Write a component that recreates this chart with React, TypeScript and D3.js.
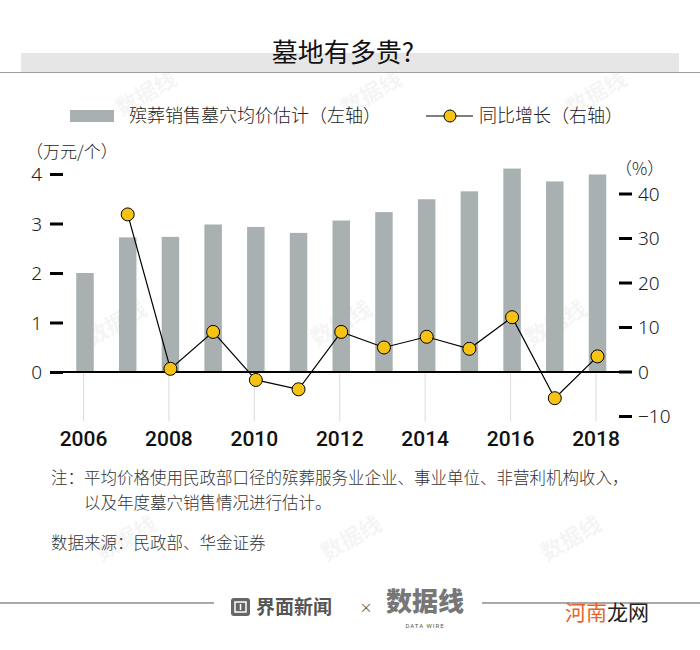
import React, { useRef, useEffect } from 'react';
import * as d3 from 'd3';

// chart data
const years = [2006, 2007, 2008, 2009, 2010, 2011, 2012, 2013, 2014, 2015, 2016, 2017, 2018];
const avgPrice = [2.0, 2.72, 2.73, 2.98, 2.93, 2.81, 3.06, 3.23, 3.49, 3.65, 4.11, 3.85, 3.99];
const yoyGrowth: (number | null)[] = [null, 35.3, 0.6, 8.9, -1.9, -4.0, 8.9, 5.4, 7.8, 5.1, 12.2, -6.0, 3.4];
const leftTicks = [0, 1, 2, 3, 4];
const rightTicks = [-10, 0, 10, 20, 30, 40];
const labelYears = [2006, 2008, 2010, 2012, 2014, 2016, 2018];

const CJK = '"Noto Sans CJK SC", "Noto Sans", sans-serif';
const BAR_COLOR = '#a9b0b2';
const DOT_COLOR = '#f6c315';

const App: React.FC = () => {
  const svgRef = useRef<SVGSVGElement>(null);
  const width = 700;
  const height = 650;

  useEffect(() => {
    if (!svgRef.current) return;
    const root = d3.select(svgRef.current);
    root.selectAll('*').remove();

    root.append('rect').attr('width', width).attr('height', height).attr('fill', '#fff');

    // faint watermarks
    const marks = [[120, 330], [345, 330], [560, 330], [150, 100], [375, 100], [600, 100], [355, 545], [575, 545], [130, 545]];
    root
      .selectAll('.wm')
      .data(marks)
      .enter()
      .append('text')
      .attr('class', 'wm')
      .attr('transform', (d) => `translate(${d[0]},${d[1]}) rotate(-30)`)
      .attr('text-anchor', 'middle')
      .style('font-family', CJK)
      .style('font-weight', 700)
      .style('font-size', '22px')
      .style('fill', '#000')
      .style('opacity', 0.035)
      .text('数据线');

    // title
    root.append('rect').attr('x', 21).attr('y', 53).attr('width', 658).attr('height', 19).attr('fill', '#e6e6e6');
    root.append('line').attr('x1', 0).attr('x2', width).attr('y1', 72.5).attr('y2', 72.5).attr('stroke', '#a0a0a0').attr('stroke-width', 1);
    root
      .append('text')
      .attr('x', 343)
      .attr('y', 62)
      .attr('text-anchor', 'middle')
      .style('font-family', CJK)
      .style('font-weight', 400)
      .style('font-size', '26px')
      .style('fill', '#111')
      .text('墓地有多贵?');

    // legend
    root.append('rect').attr('x', 70).attr('y', 110).attr('width', 44).attr('height', 12).attr('fill', BAR_COLOR);
    root
      .append('text')
      .attr('x', 129)
      .attr('y', 122)
      .style('font-family', CJK)
      .style('font-weight', 300)
      .style('font-size', '18px')
      .style('fill', '#222')
      .text('殡葬销售墓穴均价估计（左轴）');
    root.append('line').attr('x1', 426).attr('x2', 473).attr('y1', 116).attr('y2', 116).attr('stroke', '#000').attr('stroke-width', 1.2);
    root.append('circle').attr('cx', 450).attr('cy', 116).attr('r', 6).attr('fill', DOT_COLOR).attr('stroke', '#000').attr('stroke-width', 1);
    root
      .append('text')
      .attr('x', 479)
      .attr('y', 122)
      .style('font-family', CJK)
      .style('font-weight', 300)
      .style('font-size', '18px')
      .style('fill', '#222')
      .text('同比增长（右轴）');

    // scales
    const x = d3.scalePoint<number>().domain(years).range([85, 597.5]);
    const yLeft = d3.scaleLinear().domain([0, 4]).range([372, 174]);
    const yRight = d3.scaleLinear().domain([-10, 40]).range([416, 193.5]);
    const barWidth = 17.5;

    // axis unit labels
    root
      .append('text')
      .attr('x', 26)
      .attr('y', 158)
      .style('font-family', CJK)
      .style('font-weight', 300)
      .style('font-size', '17px')
      .style('fill', '#222')
      .text('（万元/个）');
    root
      .append('text')
      .attr('x', 615)
      .attr('y', 175)
      .style('font-family', CJK)
      .style('font-weight', 300)
      .style('font-size', '17px')
      .style('fill', '#222')
      .text('（%）');

    // vertical grid under baseline
    root
      .append('g')
      .selectAll('line')
      .data(labelYears)
      .enter()
      .append('line')
      .attr('x1', (d) => (x(d) as number) - 1.5)
      .attr('x2', (d) => (x(d) as number) - 1.5)
      .attr('y1', yLeft(0))
      .attr('y2', 421)
      .attr('stroke', '#dcdcdc')
      .attr('stroke-width', 1);

    // bars
    root
      .append('g')
      .selectAll('rect')
      .data(avgPrice)
      .enter()
      .append('rect')
      .attr('x', (_, i) => (x(years[i]) as number) - barWidth / 2)
      .attr('width', barWidth)
      .attr('y', (d) => yLeft(d))
      .attr('height', (d) => yLeft(0) - yLeft(d))
      .attr('fill', BAR_COLOR);

    // left axis
    const leftAxis = root
      .append('g')
      .attr('transform', 'translate(63,0)')
      .call(d3.axisLeft(yLeft).tickValues(leftTicks).tickSize(13).tickPadding(8).tickFormat(d3.format('d')));
    leftAxis.select('.domain').remove();
    leftAxis.selectAll('line').attr('stroke', '#000').attr('stroke-width', 3);
    leftAxis
      .selectAll('text')
      .attr('dy', '0.36em')
      .style('font-family', '"Noto Sans", sans-serif')
      .style('font-weight', 300)
      .style('font-size', '19px')
      .style('fill', '#222');

    // right axis
    const rightAxis = root
      .append('g')
      .attr('transform', 'translate(619,0)')
      .call(d3.axisRight(yRight).tickValues(rightTicks).tickSize(13).tickPadding(6).tickFormat(d3.format('d')));
    rightAxis.select('.domain').remove();
    rightAxis.selectAll('line').attr('stroke', '#000').attr('stroke-width', 3);
    rightAxis
      .selectAll('text')
      .attr('dy', '0.36em')
      .style('font-family', '"Noto Sans", sans-serif')
      .style('font-weight', 300)
      .style('font-size', '19px')
      .style('fill', '#222');

    // baseline
    root
      .append('line')
      .attr('x1', 50)
      .attr('x2', 632)
      .attr('y1', yLeft(0))
      .attr('y2', yLeft(0))
      .attr('stroke', '#000')
      .attr('stroke-width', 2);

    // x labels
    root
      .append('g')
      .selectAll('text')
      .data(labelYears)
      .enter()
      .append('text')
      .attr('x', (d) => (x(d) as number) - 1.5)
      .attr('y', 446)
      .attr('text-anchor', 'middle')
      .style('font-family', 'Roboto, sans-serif')
      .style('font-weight', 500)
      .style('font-size', '21px')
      .style('fill', '#111')
      .text((d) => String(d));

    // growth line
    const pts = years
      .map((yr, i) => ({ yr, v: yoyGrowth[i] }))
      .filter((d) => d.v !== null) as { yr: number; v: number }[];
    const line = d3
      .line<{ yr: number; v: number }>()
      .x((d) => x(d.yr) as number)
      .y((d) => yRight(d.v));
    root.append('path').attr('d', line(pts)).attr('fill', 'none').attr('stroke', '#000').attr('stroke-width', 1.2);
    root
      .append('g')
      .selectAll('circle')
      .data(pts)
      .enter()
      .append('circle')
      .attr('cx', (d) => x(d.yr) as number)
      .attr('cy', (d) => yRight(d.v))
      .attr('r', 6.5)
      .attr('fill', DOT_COLOR)
      .attr('stroke', '#000')
      .attr('stroke-width', 1);

    // notes
    const noteStyle = (t: d3.Selection<SVGTextElement, unknown, null, undefined>) =>
      t.style('font-family', CJK).style('font-weight', 300).style('font-size', '16.5px').style('fill', '#333');
    root.append('text').attr('x', 51).attr('y', 484).call(noteStyle).text('注：平均价格使用民政部口径的殡葬服务业企业、事业单位、非营利机构收入，');
    root.append('text').attr('x', 84).attr('y', 509).call(noteStyle).text('以及年度墓穴销售情况进行估计。');
    root.append('text').attr('x', 51).attr('y', 549).call(noteStyle).text('数据来源：民政部、华金证券');

    // footer
    root.append('line').attr('x1', 0).attr('x2', 214).attr('y1', 603).attr('y2', 603).attr('stroke', '#555').attr('stroke-width', 1.2);
    root.append('line').attr('x1', 482).attr('x2', width).attr('y1', 603).attr('y2', 603).attr('stroke', '#555').attr('stroke-width', 1.2);
    root.append('rect').attr('x', 231).attr('y', 598).attr('width', 19).attr('height', 18).attr('rx', 3).attr('fill', '#666');
    root.append('rect').attr('x', 235).attr('y', 602).attr('width', 11).attr('height', 10).attr('fill', 'none').attr('stroke', '#fff').attr('stroke-width', 1.5);
    root.append('line').attr('x1', 240.5).attr('x2', 240.5).attr('y1', 604).attr('y2', 610).attr('stroke', '#fff').attr('stroke-width', 1.5);
    root
      .append('text')
      .attr('x', 256)
      .attr('y', 614)
      .style('font-family', CJK)
      .style('font-weight', 700)
      .style('font-size', '19px')
      .style('fill', '#555')
      .text('界面新闻');
    root
      .append('text')
      .attr('x', 366)
      .attr('y', 612)
      .attr('text-anchor', 'middle')
      .style('font-family', CJK)
      .style('font-size', '13px')
      .style('fill', '#555')
      .text('×');
    root
      .append('text')
      .attr('x', 425)
      .attr('y', 611)
      .attr('text-anchor', 'middle')
      .style('font-family', CJK)
      .style('font-weight', 900)
      .style('font-size', '26px')
      .style('fill', '#777')
      .text('数据线');
    root
      .append('text')
      .attr('x', 425)
      .attr('y', 628)
      .attr('text-anchor', 'middle')
      .style('font-family', 'Roboto, sans-serif')
      .style('font-size', '6px')
      .style('letter-spacing', '1px')
      .style('fill', '#555')
      .text('DATA WIRE');
    const brand = root
      .append('text')
      .attr('x', 565)
      .attr('y', 620)
      .style('font-family', CJK)
      .style('font-size', '21px');
    brand.append('tspan').style('fill', '#e8632b').text('河南');
    brand.append('tspan').style('fill', '#222').text('龙网');
  }, []);

  return (
    <div style={{ position: 'absolute', left: 0, top: 0 }}>
      <svg ref={svgRef} width={width} height={height} style={{ display: 'block' }}></svg>
    </div>
  );
};

export default App;
